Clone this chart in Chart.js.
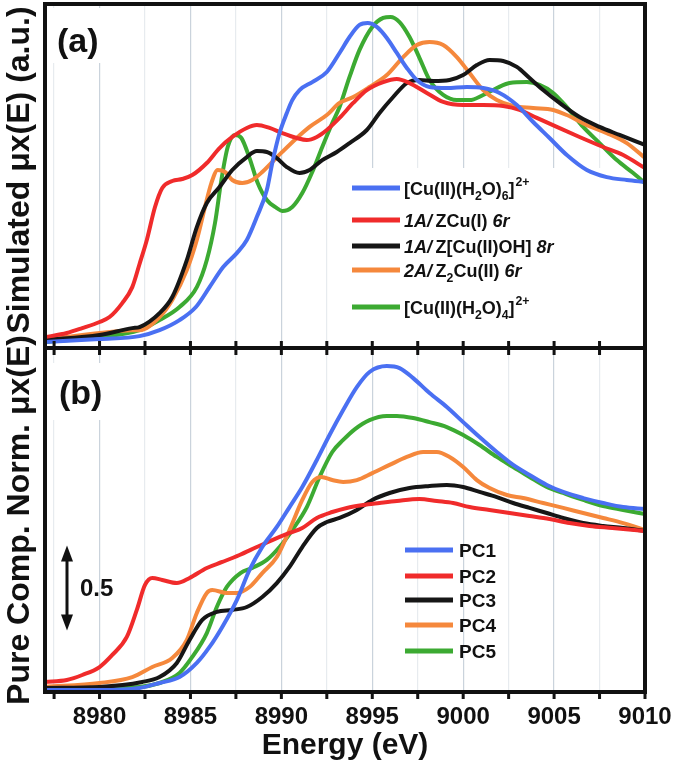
<!DOCTYPE html>
<html>
<head>
<meta charset="utf-8">
<script src="https://cdn.jsdelivr.net/npm/chart.js@4.4.1/dist/chart.umd.min.js"></script>
<style>
  html, body { margin: 0; padding: 0; background: #fff; }
</style>
</head>
<body>
<canvas id="xanes" width="677" height="765"></canvas>
<script>
// energy (eV), value pairs
// (a) simulated spectra
const cuH2O6 = [[8977.0,0.006],[8980.0,0.024],[8982.2,0.041],[8983.3,0.076],[8984.4,0.135],[8985.3,0.212],[8986.05,0.329],[8986.8,0.447],[8987.55,0.529],[8988.1,0.606],[8988.65,0.741],[8989.2,0.9],[8989.5,1.059],[8989.9,1.235],[8990.3,1.353],[8990.6,1.429],[8991.0,1.488],[8991.7,1.535],[8992.5,1.594],[8993.2,1.706],[8993.75,1.8],[8994.3,1.871],[8994.75,1.882],[8995.25,1.859],[8995.8,1.794],[8996.35,1.706],[8996.9,1.618],[8997.45,1.547],[8998.15,1.506],[8999.1,1.5],[9000.2,1.506],[9001.1,1.5],[9002.0,1.471],[9002.95,1.4],[9003.85,1.3],[9004.75,1.206],[9005.7,1.106],[9006.8,1.018],[9007.9,0.976],[9009.0,0.959],[9010.0,0.947]];
const zCuI6r = [[8977.0,0.035],[8978.2,0.059],[8979.05,0.088],[8980.0,0.124],[8980.55,0.153],[8981.25,0.235],[8981.8,0.329],[8982.2,0.465],[8982.6,0.606],[8983.05,0.8],[8983.45,0.912],[8984.0,0.953],[8984.55,0.965],[8985.1,0.988],[8985.9,1.059],[8986.6,1.147],[8987.3,1.212],[8988.1,1.265],[8988.65,1.282],[8989.35,1.265],[8990.05,1.235],[8990.85,1.206],[8991.4,1.194],[8991.95,1.212],[8992.5,1.253],[8993.2,1.324],[8993.95,1.412],[8994.7,1.488],[8995.6,1.535],[8996.35,1.553],[8997.05,1.529],[8998.0,1.471],[8998.9,1.418],[9000.0,1.4],[9001.1,1.4],[9002.2,1.394],[9003.1,1.371],[9004.05,1.324],[9005.15,1.271],[9006.4,1.212],[9007.7,1.153],[9008.8,1.106],[9010.0,1.029]];
const zCuOH8r = [[8977.0,0.018],[8980.0,0.047],[8981.8,0.088],[8982.2,0.094],[8983.3,0.176],[8984.0,0.271],[8984.8,0.488],[8985.35,0.682],[8985.9,0.824],[8986.6,0.918],[8987.3,1.018],[8988.1,1.094],[8988.65,1.129],[8989.2,1.124],[8989.75,1.088],[8990.3,1.035],[8991.0,1.0],[8991.55,1.018],[8992.25,1.076],[8993.05,1.124],[8993.75,1.176],[8994.7,1.253],[8995.4,1.353],[8996.15,1.447],[8996.9,1.529],[8997.6,1.547],[8998.35,1.541],[8999.25,1.547],[9000.0,1.576],[9000.75,1.635],[9001.45,1.665],[9002.2,1.659],[9002.95,1.624],[9003.65,1.559],[9004.4,1.488],[9005.3,1.412],[9006.4,1.329],[9007.5,1.271],[9008.6,1.224],[9010.0,1.165]];
const z2CuII6r = [[8977.0,0.018],[8980.0,0.059],[8981.8,0.076],[8982.2,0.076],[8983.3,0.153],[8984.0,0.253],[8984.8,0.429],[8985.35,0.606],[8985.8,0.8],[8986.15,0.941],[8986.5,1.018],[8986.9,1.006],[8987.3,0.959],[8987.85,0.941],[8988.4,0.959],[8988.95,1.006],[8989.5,1.065],[8990.05,1.124],[8990.85,1.206],[8991.55,1.271],[8992.5,1.341],[8993.2,1.412],[8993.95,1.447],[8994.85,1.506],[8995.8,1.576],[8996.7,1.682],[8997.45,1.753],[8998.15,1.771],[8998.9,1.753],[8999.65,1.682],[9000.35,1.588],[9001.1,1.488],[9001.85,1.429],[9002.75,1.394],[9003.85,1.382],[9004.95,1.371],[9005.7,1.341],[9006.8,1.282],[9007.9,1.235],[9009.0,1.176],[9010.0,1.088]];
const cuH2O4 = [[8977.0,0.006],[8980.0,0.035],[8982.2,0.076],[8983.3,0.135],[8984.4,0.212],[8985.35,0.329],[8985.9,0.488],[8986.35,0.706],[8986.7,0.959],[8987.05,1.153],[8987.45,1.224],[8987.8,1.206],[8988.25,1.088],[8988.7,0.941],[8989.2,0.841],[8989.75,0.794],[8990.05,0.776],[8990.6,0.8],[8991.15,0.882],[8991.7,1.006],[8992.25,1.153],[8992.8,1.294],[8993.2,1.388],[8993.75,1.565],[8994.3,1.724],[8995.0,1.859],[8995.6,1.912],[8996.0,1.918],[8996.5,1.888],[8997.05,1.8],[8997.6,1.676],[8998.15,1.547],[8998.9,1.459],[8999.65,1.429],[9000.35,1.429],[9001.1,1.459],[9001.85,1.5],[9002.55,1.529],[9003.5,1.535],[9004.2,1.518],[9004.95,1.471],[9005.7,1.388],[9006.6,1.271],[9007.5,1.176],[9008.45,1.076],[9009.35,1.0],[9010.0,0.941]];

// (b) pure components
const pc1 = [[8977.0,0.0],[8980.0,0.0],[8982.2,0.012],[8983.3,0.041],[8984.4,0.076],[8985.35,0.159],[8986.05,0.253],[8986.75,0.371],[8987.55,0.529],[8988.25,0.706],[8988.95,0.841],[8989.75,0.959],[8990.45,1.076],[8991.15,1.194],[8991.95,1.353],[8992.65,1.5],[8993.4,1.647],[8994.15,1.782],[8994.85,1.871],[8995.8,1.906],[8996.5,1.894],[8997.25,1.835],[8998.15,1.747],[8999.1,1.665],[9000.0,1.576],[9000.9,1.488],[9001.85,1.4],[9002.75,1.324],[9003.65,1.265],[9004.6,1.206],[9005.5,1.165],[9006.6,1.129],[9007.7,1.1],[9008.8,1.076],[9010.0,1.065]];
const pc2 = [[8977.0,0.047],[8978.2,0.059],[8979.05,0.088],[8980.0,0.135],[8980.7,0.206],[8981.5,0.312],[8982.05,0.471],[8982.5,0.618],[8982.9,0.659],[8983.45,0.647],[8984.25,0.629],[8984.95,0.659],[8985.9,0.718],[8986.75,0.753],[8987.7,0.794],[8988.65,0.841],[8989.5,0.882],[8990.45,0.924],[8991.15,0.953],[8991.95,1.012],[8992.8,1.047],[8993.6,1.071],[8994.5,1.088],[8995.4,1.1],[8996.35,1.112],[8997.6,1.124],[8998.55,1.112],[8999.45,1.1],[9000.35,1.076],[9001.45,1.059],[9002.55,1.041],[9003.65,1.024],[9004.75,1.006],[9005.85,0.982],[9006.95,0.965],[9008.2,0.953],[9010.0,0.935]];
const pc3 = [[8977.0,0.012],[8980.0,0.018],[8982.35,0.047],[8983.3,0.076],[8984.25,0.159],[8984.95,0.294],[8985.65,0.412],[8986.45,0.459],[8987.3,0.471],[8988.1,0.488],[8988.95,0.547],[8989.75,0.629],[8990.45,0.724],[8991.15,0.841],[8991.95,0.953],[8992.5,0.988],[8993.2,1.012],[8994.15,1.059],[8995.0,1.118],[8995.95,1.159],[8997.05,1.188],[8998.15,1.2],[8999.1,1.206],[9000.0,1.194],[9000.9,1.165],[9001.85,1.135],[9002.75,1.1],[9003.65,1.071],[9004.6,1.041],[9005.5,1.012],[9006.6,0.982],[9007.7,0.965],[9008.8,0.953],[9010.0,0.935]];
const pc4 = [[8977.0,0.018],[8980.0,0.041],[8981.8,0.076],[8982.9,0.135],[8984.0,0.188],[8984.8,0.294],[8985.35,0.453],[8985.9,0.571],[8986.2,0.588],[8987.0,0.571],[8987.55,0.571],[8988.25,0.606],[8988.95,0.688],[8989.75,0.782],[8990.45,0.941],[8991.15,1.118],[8991.7,1.224],[8992.2,1.253],[8992.8,1.235],[8993.4,1.224],[8994.15,1.235],[8995.0,1.276],[8995.95,1.324],[8996.9,1.371],[8997.8,1.4],[8998.55,1.4],[8999.25,1.371],[9000.0,1.312],[9000.75,1.235],[9001.45,1.188],[9002.4,1.147],[9003.3,1.129],[9004.4,1.1],[9005.5,1.071],[9006.6,1.041],[9007.7,1.012],[9008.8,0.982],[9010.0,0.941]];
const pc5 = [[8977.0,0.006],[8980.0,0.012],[8982.2,0.018],[8983.3,0.041],[8984.4,0.1],[8985.1,0.194],[8985.9,0.335],[8986.45,0.488],[8987.0,0.606],[8987.75,0.688],[8988.4,0.718],[8989.2,0.765],[8989.9,0.841],[8990.6,0.941],[8991.4,1.076],[8992.1,1.253],[8992.8,1.4],[8993.4,1.471],[8994.05,1.535],[8994.85,1.588],[8995.8,1.612],[8996.35,1.612],[8997.25,1.6],[8998.15,1.576],[8999.1,1.547],[9000.0,1.5],[9000.9,1.441],[9001.85,1.371],[9002.75,1.312],[9003.65,1.253],[9004.6,1.194],[9005.5,1.159],[9006.6,1.118],[9007.7,1.082],[9008.8,1.059],[9010.0,1.035]];

// legend text: *italic*, _x subscript, ^{..} superscript
const labelsA = ['[Cu(II)(H_2O)_6]^{2+}', '*1A/*\u2009ZCu(I) *6r*', '*1A/*\u2009Z[Cu(II)OH] *8r*', '*2A/*\u2009Z_2Cu(II) *6r*', '[Cu(II)(H_2O)_4]^{2+}'];
const labelsB = ['PC1', 'PC2', 'PC3', 'PC4', 'PC5'];
const seriesA = [cuH2O6, zCuI6r, zCuOH8r, z2CuII6r, cuH2O4];
const seriesB = [pc1, pc2, pc3, pc4, pc5];
const colors = ['#4a70f2', '#f02b2b', '#161616', '#f5883c', '#3caa32'];

const FONT = '"Liberation Sans", Arial, sans-serif';
Chart.defaults.font.family = FONT;
Chart.defaults.color = '#111';

const plain = s => s.replace(/[*_\u2009]/g, '').replace(/\^\{(.*?)\}/g, '$1');
const toXY = arr => arr.map(p => ({ x: p[0], y: p[1] }));

function richText(ctx, text, x, y, size) {
  const f = (sz, it) => (it ? 'italic ' : '') + 'bold ' + sz + 'px ' + FONT;
  let it = false, i = 0;
  while (i < text.length) {
    const c = text[i];
    if (c === '*') { it = !it; i++; continue; }
    if (c === '_') {
      ctx.font = f(size * 0.68, it);
      ctx.fillText(text[i + 1], x, y + size * 0.3);
      x += ctx.measureText(text[i + 1]).width;
      i += 2; continue;
    }
    if (c === '^') {
      const end = text.indexOf('}', i);
      const s = text.slice(i + 2, end);
      ctx.font = f(size * 0.68, it);
      ctx.fillText(s, x + 1, y - size * 0.48);
      x += ctx.measureText(s).width;
      i = end + 1; continue;
    }
    let j = i;
    while (j < text.length && '*_^'.indexOf(text[j]) < 0) j++;
    const s = text.slice(i, j);
    ctx.font = f(size, it);
    ctx.fillText(s, x, y);
    x += ctx.measureText(s).width;
    i = j;
  }
}

const datasets = [];
seriesA.forEach((d, k) => datasets.push({
  label: plain(labelsA[k]), data: toXY(d), yAxisID: 'ya',
  borderColor: colors[k], borderWidth: 4, pointRadius: 0, cubicInterpolationMode: 'monotone', fill: false
}));
seriesB.forEach((d, k) => datasets.push({
  label: labelsB[k], data: toXY(d), yAxisID: 'yb',
  borderColor: colors[k], borderWidth: 4, pointRadius: 0, cubicInterpolationMode: 'monotone', fill: false
}));

const decor = {
  id: 'decor',
  beforeDatasetsDraw(chart) {
    const ctx = chart.ctx, a = chart.chartArea, mid = chart.scales.ya.bottom;
    ctx.save();
    ctx.fillStyle = '#fff';
    ctx.fillRect(a.left + 7, a.top + 4, 60, 55);
    ctx.fillRect(a.left + 7, mid + 15, 60, 57);
    ctx.fillRect(340, 168, 275, mid - 168);
    ctx.restore();
  },
  afterDraw(chart) {
    const ctx = chart.ctx, a = chart.chartArea, x = chart.scales.x;
    const mid = chart.scales.ya.bottom, yb = chart.scales.yb;
    ctx.save();
    // frame and middle axis
    ctx.strokeStyle = '#111';
    ctx.lineWidth = 4;
    ctx.strokeRect(a.left, a.top, a.right - a.left, a.bottom - a.top);
    ctx.beginPath(); ctx.moveTo(a.left, mid); ctx.lineTo(a.right, mid); ctx.stroke();
    ctx.lineWidth = 3;
    ctx.fillStyle = '#111';
    ctx.font = 'bold 24px ' + FONT;
    ctx.textAlign = 'center';
    ctx.textBaseline = 'middle';
    x.ticks.forEach(t => {
      const px = x.getPixelForValue(t.value);
      ctx.beginPath();
      ctx.moveTo(px, mid - 7); ctx.lineTo(px, mid + 7);
      ctx.moveTo(px, a.bottom); ctx.lineTo(px, a.bottom + 7);
      ctx.stroke();
      if (t.value % 5 === 0) ctx.fillText(String(t.value), px, a.bottom + 25);
    });
    // panel letters
    ctx.textAlign = 'left';
    ctx.font = 'bold 34px ' + FONT;
    ctx.fillText('(a)', a.left + 12, 43);
    ctx.fillText('(b)', a.left + 14, 395);
    // y titles
    ctx.font = 'bold 32px ' + FONT;
    ctx.textAlign = 'center';
    [['Simulated \u03bcx(E) (a.u.)', 170], ['Pure Comp. Norm. \u03bcx(E)', 520]].forEach(([s, cy]) => {
      ctx.save(); ctx.translate(20, cy); ctx.rotate(-Math.PI / 2); ctx.fillText(s, 0, 0); ctx.restore();
    });
    // legends
    ctx.textAlign = 'left';
    ctx.textBaseline = 'alphabetic';
    ctx.lineWidth = 5;
    [188, 220, 246, 270, 307].forEach((ry, k) => {
      ctx.strokeStyle = colors[k];
      ctx.beginPath(); ctx.moveTo(352, ry); ctx.lineTo(400, ry); ctx.stroke();
      ctx.fillStyle = '#111';
      richText(ctx, labelsA[k], 404, ry + 7, 18);
    });
    [550, 576, 600, 625, 651].forEach((ry, k) => {
      ctx.strokeStyle = colors[k];
      ctx.beginPath(); ctx.moveTo(405, ry); ctx.lineTo(453, ry); ctx.stroke();
      ctx.fillStyle = '#111';
      ctx.font = 'bold 19px ' + FONT;
      ctx.fillText(labelsB[k], 459, ry + 7);
    });
    // 0.5 scale arrow
    const y1 = yb.getPixelForValue(0.85), y2 = yb.getPixelForValue(0.35), ax = 67;
    ctx.strokeStyle = '#111'; ctx.fillStyle = '#111'; ctx.lineWidth = 3;
    ctx.beginPath(); ctx.moveTo(ax, y1 + 10); ctx.lineTo(ax, y2 - 10); ctx.stroke();
    ctx.beginPath(); ctx.moveTo(ax, y1); ctx.lineTo(ax - 6, y1 + 16); ctx.lineTo(ax + 6, y1 + 16); ctx.closePath(); ctx.fill();
    ctx.beginPath(); ctx.moveTo(ax, y2); ctx.lineTo(ax - 6, y2 - 16); ctx.lineTo(ax + 6, y2 - 16); ctx.closePath(); ctx.fill();
    ctx.font = 'bold 24px ' + FONT;
    ctx.textBaseline = 'middle';
    ctx.fillText('0.5', 80, (y1 + y2) / 2 + 1);
    ctx.restore();
  }
};

const hiddenY = (min, max, w) => ({
  type: 'linear', position: 'left', stack: 'panels', stackWeight: 1, weight: w,
  min: min, max: max,
  grid: { display: false, drawTicks: false }, border: { display: false },
  ticks: { display: false }, title: { display: false }
});

new Chart(document.getElementById('xanes'), {
  type: 'line',
  data: { datasets: datasets },
  options: {
    responsive: false,
    devicePixelRatio: 1,
    animation: false,
    layout: { padding: { left: 45, right: 32, top: 4, bottom: 0 } },
    plugins: { legend: { display: false }, tooltip: { enabled: false } },
    scales: {
      x: {
        type: 'linear', min: 8977, max: 9010,
        grid: {
          drawTicks: false, lineWidth: 1.2,
          color: c => (c.tick && c.tick.value % 5 === 0) ? 'rgba(150,168,185,0.5)' : 'rgba(185,198,210,0.35)'
        },
        border: { display: false },
        // labels are painted by the decor plugin so the frame keeps its width
        ticks: { display: false, stepSize: 2.5, maxTicksLimit: 20, autoSkip: false, includeBounds: false },
        title: { display: true, text: 'Energy (eV)', color: '#111', font: { size: 30, weight: 'bold', lineHeight: 1 }, padding: { top: 39, bottom: 4 } }
      },
      ya: hiddenY(-0.029, 1.994, 2),
      yb: hiddenY(-0.012, 2.012, 1)
    }
  },
  plugins: [decor]
});
</script>
</body>
</html>
